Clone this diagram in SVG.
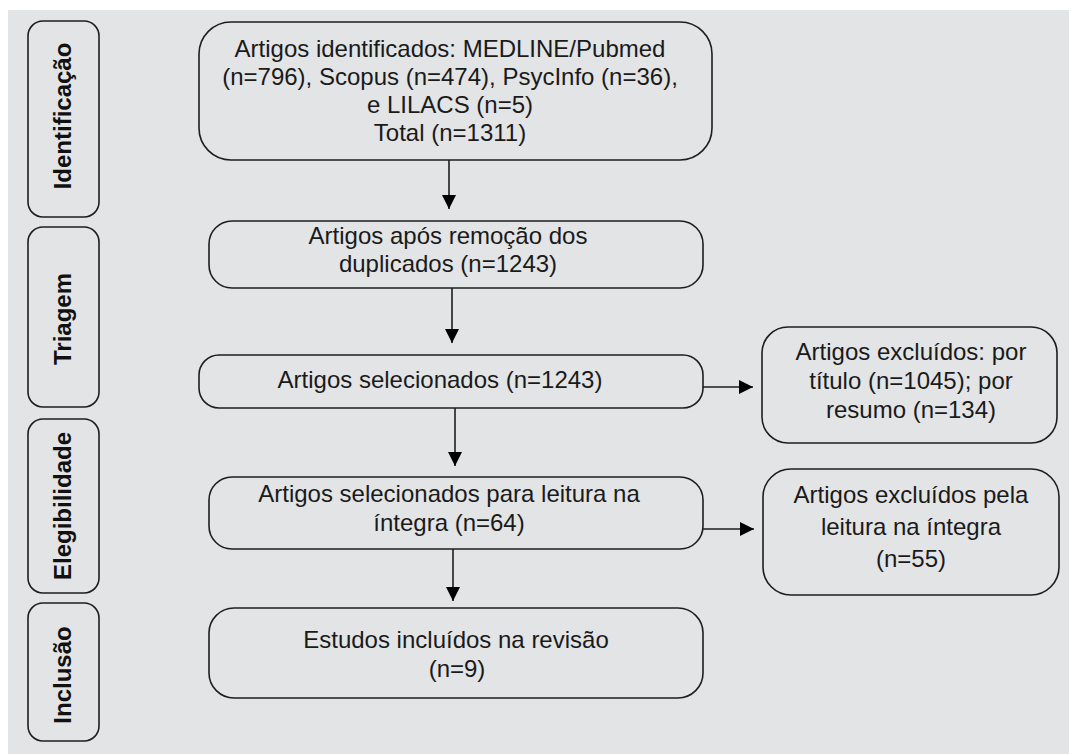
<svg xmlns="http://www.w3.org/2000/svg" width="1069" height="754" viewBox="0 0 1069 754">
<defs>
<style>
.box{fill:none;stroke:#1e1e1e;stroke-width:1.6}
.t{font-family:"Liberation Sans",Arial,sans-serif;font-size:24px;fill:#1a1a1a;text-anchor:middle}
.lb{font-family:"Liberation Sans",Arial,sans-serif;font-size:24px;font-weight:bold;fill:#111;text-anchor:middle}
.ln{stroke:#1e1e1e;stroke-width:1.6;fill:none}
</style>
<marker id="ah" viewBox="0 0 10 10" refX="10" refY="5" markerWidth="14" markerHeight="14" markerUnits="userSpaceOnUse" orient="auto">
<path d="M0,0 L10,5 L0,10 Z" fill="#000"/>
</marker>
</defs>
<rect width="1069" height="754" fill="#fff"/>
<rect x="8" y="10" width="1061" height="744" fill="#e3e4e6"/>

<g id="stage-identificacao">
<rect class="box" x="28" y="21" width="71" height="196" rx="15"/>
<text class="lb" transform="translate(71,116) rotate(-90)">Identificação</text>
</g>
<g id="stage-triagem">
<rect class="box" x="28" y="227" width="71" height="180" rx="15"/>
<text class="lb" transform="translate(71,319) rotate(-90)">Triagem</text>
</g>
<g id="stage-elegibilidade">
<rect class="box" x="28" y="419" width="71" height="174" rx="15"/>
<text class="lb" transform="translate(71,506) rotate(-90)">Elegibilidade</text>
</g>
<g id="stage-inclusao">
<rect class="box" x="28" y="603" width="71" height="138" rx="15"/>
<text class="lb" transform="translate(71,675) rotate(-90)">Inclusão</text>
</g>

<g id="n-identificados">
<rect class="box" x="199" y="22" width="513" height="138" rx="32"/>
<text class="t" x="450" y="57">Artigos identificados: MEDLINE/Pubmed</text>
<text class="t" x="450" y="85">(n=796), Scopus (n=474), PsycInfo (n=36),</text>
<text class="t" x="450" y="113">e LILACS (n=5)</text>
<text class="t" x="450" y="141">Total (n=1311)</text>
</g>
<g id="n-duplicados">
<rect class="box" x="209" y="221" width="494" height="67" rx="23"/>
<text class="t" x="448" y="244">Artigos após remoção dos</text>
<text class="t" x="448" y="272">duplicados (n=1243)</text>
</g>
<g id="n-selecionados">
<rect class="box" x="199" y="355" width="504" height="53" rx="20"/>
<text class="t" x="440" y="388">Artigos selecionados (n=1243)</text>
</g>
<g id="n-leitura">
<rect class="box" x="209" y="477" width="494" height="72" rx="23"/>
<text class="t" x="449" y="502">Artigos selecionados para leitura na</text>
<text class="t" x="449" y="531">íntegra (n=64)</text>
</g>
<g id="n-incluidos">
<rect class="box" x="209" y="608" width="494" height="90" rx="25"/>
<text class="t" x="456" y="648">Estudos incluídos na revisão</text>
<text class="t" x="457" y="677">(n=9)</text>
</g>
<g id="n-excluidos1">
<rect class="box" x="762" y="327" width="295" height="116" rx="26"/>
<text class="t" x="911" y="360">Artigos excluídos: por</text>
<text class="t" x="911" y="389">título (n=1045); por</text>
<text class="t" x="911" y="418">resumo (n=134)</text>
</g>
<g id="n-excluidos2">
<rect class="box" x="763" y="469" width="296" height="126" rx="28"/>
<text class="t" x="911" y="503">Artigos excluídos pela</text>
<text class="t" x="911" y="535">leitura na íntegra</text>
<text class="t" x="911" y="567">(n=55)</text>
</g>

<g id="connectors">
<line class="ln" x1="449" y1="160" x2="449" y2="209" marker-end="url(#ah)"/>
<line class="ln" x1="452" y1="288" x2="452" y2="343" marker-end="url(#ah)"/>
<line class="ln" x1="455" y1="408" x2="455" y2="466" marker-end="url(#ah)"/>
<line class="ln" x1="453" y1="549" x2="453" y2="601" marker-end="url(#ah)"/>
<line class="ln" x1="703" y1="387" x2="753" y2="387" marker-end="url(#ah)"/>
<line class="ln" x1="703" y1="529" x2="754" y2="529" marker-end="url(#ah)"/>
</g>
</svg>
